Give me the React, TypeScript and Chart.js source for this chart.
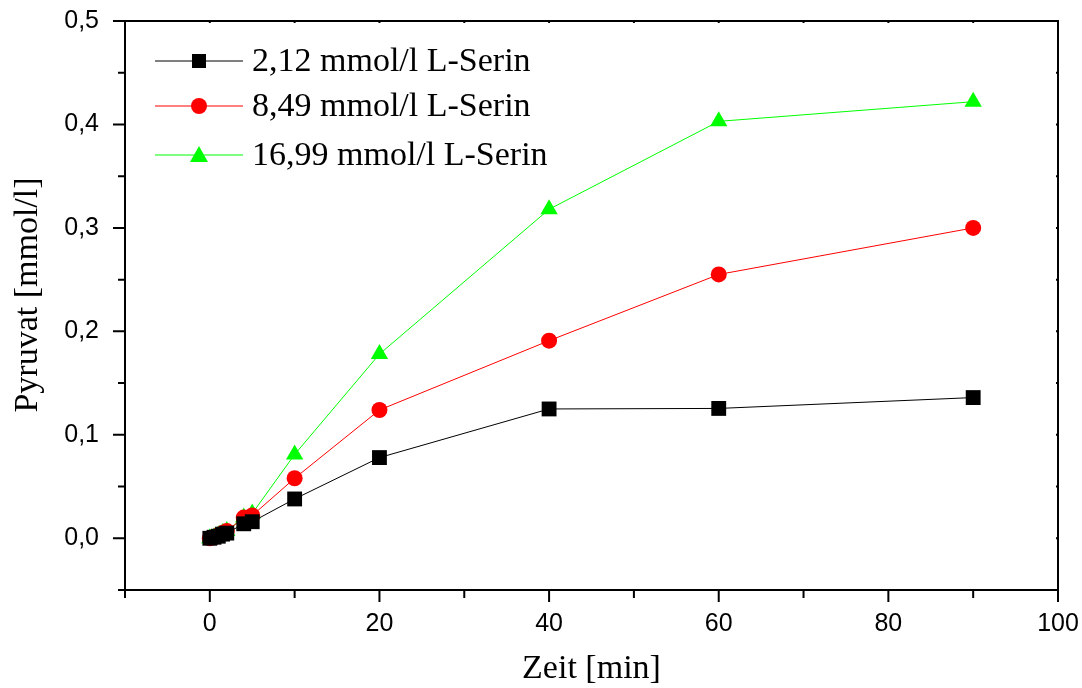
import React, { useEffect, useRef } from "react";
import { Chart, registerables } from "chart.js";

Chart.register(...registerables);

const times = [0, 0.5, 1, 1.5, 2, 4, 5, 10, 20, 40, 60, 90];
const serin212 = [0, 0.001, 0.002, 0.004, 0.005, 0.014, 0.016, 0.038, 0.078, 0.125, 0.1255, 0.136];
const serin849 = [0, 0.001, 0.003, 0.005, 0.007, 0.02, 0.022, 0.058, 0.124, 0.191, 0.255, 0.3];
const serin1699 = [0, 0.001, 0.003, 0.005, 0.007, 0.02, 0.024, 0.081, 0.178, 0.318, 0.403, 0.422];
const seriesLabels = ["2,12 mmol/l L-Serin", "8,49 mmol/l L-Serin", "16,99 mmol/l L-Serin"];
const xTitle = "Zeit [min]";
const yTitle = "Pyruvat [mmol/l]";
const xMajorTicks = [0, 20, 40, 60, 80, 100];
const xMinorTicks = [-10, 10, 30, 50, 70, 90];
const yMajorTicks = [0, 0.1, 0.2, 0.3, 0.4, 0.5];
const yMinorTicks = [-0.05, 0.05, 0.15, 0.25, 0.35, 0.45];

const toPts = (ys: number[]) => times.map((t, i) => ({ x: t, y: ys[i] }));

const framePlugin = {
  id: "frame",
  afterDatasetsDraw(chart: any) {
    const { ctx, chartArea, scales } = chart;
    const { left, right, top, bottom } = chartArea;
    const xs = scales.x;
    const ys = scales.y;
    ctx.save();
    ctx.strokeStyle = "#000";
    ctx.lineWidth = 2;
    ctx.strokeRect(left, top, right - left, bottom - top);
    ctx.beginPath();
    xMajorTicks.forEach((v) => {
      const p = xs.getPixelForValue(v);
      ctx.moveTo(p, bottom);
      ctx.lineTo(p, bottom + 12);
      ctx.moveTo(p, top);
      ctx.lineTo(p, top + 2);
    });
    xMinorTicks.forEach((v) => {
      const p = xs.getPixelForValue(v);
      ctx.moveTo(p, bottom);
      ctx.lineTo(p, bottom + 8);
      ctx.moveTo(p, top);
      ctx.lineTo(p, top + 2);
    });
    yMajorTicks.forEach((v) => {
      const p = ys.getPixelForValue(v);
      ctx.moveTo(left, p);
      ctx.lineTo(left - 12, p);
      ctx.moveTo(right, p);
      ctx.lineTo(right - 2, p);
    });
    yMinorTicks.forEach((v) => {
      const p = ys.getPixelForValue(v);
      ctx.moveTo(left, p);
      ctx.lineTo(left - 7, p);
      ctx.moveTo(right, p);
      ctx.lineTo(right - 2, p);
    });
    ctx.stroke();

    // y-axis title
    ctx.save();
    ctx.translate(28, 295);
    ctx.rotate(-Math.PI / 2);
    ctx.fillStyle = "#000";
    ctx.font = '34px "Liberation Serif"';
    ctx.textAlign = "center";
    ctx.textBaseline = "middle";
    ctx.fillText(yTitle, 0, 0);
    ctx.restore();

    // legend
    const rows = [61, 106, 155];
    chart.data.datasets.forEach((ds: any, i: number) => {
      const y = rows[i];
      ctx.strokeStyle = ds.borderColor;
      ctx.lineWidth = 1;
      ctx.beginPath();
      ctx.moveTo(155, y);
      ctx.lineTo(243, y);
      ctx.stroke();
      ctx.fillStyle = ds.pointBackgroundColor;
      ctx.beginPath();
      if (ds.pointStyle === "rect") {
        ctx.rect(192, y - 7, 14, 14);
      } else if (ds.pointStyle === "circle") {
        ctx.arc(199, y, 8, 0, Math.PI * 2);
      } else {
        ctx.moveTo(199, y - 9);
        ctx.lineTo(208, y + 7);
        ctx.lineTo(190, y + 7);
        ctx.closePath();
      }
      ctx.fill();
      ctx.fillStyle = "#000";
      ctx.font = '34px "Liberation Serif"';
      ctx.textBaseline = "middle";
      ctx.textAlign = "left";
      ctx.fillText(ds.label, 252, y + 1);
    });
    ctx.restore();
  },
};

export default function App() {
  const ref = useRef<HTMLCanvasElement | null>(null);
  useEffect(() => {
    document.body.style.margin = "0";
    const mk = (label: string, ys: number[], color: string, style: string, r: number) => ({
      label,
      data: toPts(ys),
      borderColor: color,
      backgroundColor: color,
      pointBackgroundColor: color,
      pointBorderColor: color,
      pointBorderWidth: 0,
      pointStyle: style,
      pointRadius: r,
      borderWidth: 1,
      showLine: true,
      tension: 0,
    });
    const chart = new Chart(ref.current as HTMLCanvasElement, {
      type: "scatter",
      data: {
        datasets: [
          mk(seriesLabels[0], serin212, "#000000", "rect", 10.5),
          mk(seriesLabels[1], serin849, "#ff0000", "circle", 8),
          mk(seriesLabels[2], serin1699, "#00ff00", "triangle", 10),
        ],
      },
      options: {
        animation: false,
        responsive: false,
        events: [],
        layout: { padding: { top: 21, right: 24, left: 0, bottom: 0 } },
        plugins: { legend: { display: false }, tooltip: { enabled: false } },
        scales: {
          x: {
            type: "linear",
            min: -10,
            max: 100,
            grid: { display: false },
            border: { display: false },
            afterBuildTicks: (s: any) => {
              s.ticks = xMajorTicks.map((v) => ({ value: v }));
            },
            afterFit: (s: any) => {
              s.height = 98;
              s.paddingLeft = 0;
              s.paddingRight = 0;
            },
            ticks: {
              padding: 11,
              color: "#000",
              font: { family: '"Liberation Sans"', size: 25 },
              maxRotation: 0,
            },
            title: {
              display: true,
              text: xTitle,
              color: "#000",
              font: { family: '"Liberation Serif"', size: 34 },
              padding: { top: 0, bottom: -1 },
            },
          },
          y: {
            type: "linear",
            min: -0.05,
            max: 0.5,
            grid: { display: false },
            border: { display: false },
            afterBuildTicks: (s: any) => {
              s.ticks = yMajorTicks.map((v) => ({ value: v }));
            },
            afterFit: (s: any) => {
              s.width = 125;
              s.paddingTop = 0;
              s.paddingBottom = 0;
            },
            ticks: {
              padding: 18,
              color: "#000",
              font: { family: '"Liberation Sans"', size: 25 },
              callback: (v: any) => Number(v).toFixed(1).replace(".", ","),
            },
          },
        },
      },
      plugins: [framePlugin],
    } as any);
    return () => chart.destroy();
  }, []);
  return (
    <div style={{ position: "absolute", left: 0, top: 0, width: 1082, height: 688, background: "#fff" }}>
      <canvas ref={ref} width={1082} height={688} style={{ width: 1082, height: 688 }} />
    </div>
  );
}
